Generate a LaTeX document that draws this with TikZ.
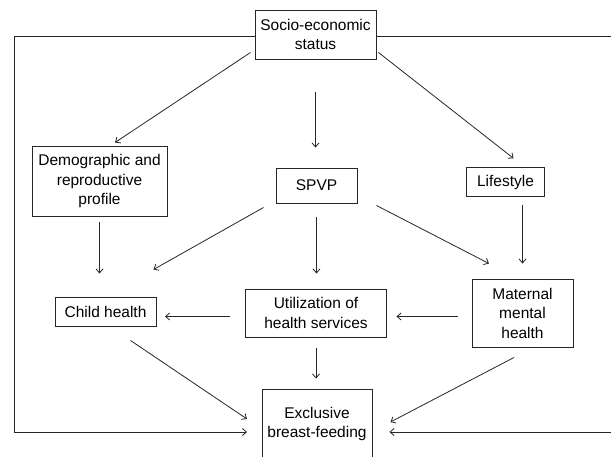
\documentclass[tikz,border=0pt]{standalone}
\usepackage{fontspec}
\setmainfont{Liberation Sans}
\usepackage{xcolor}
\usepackage{tikz}
\usetikzlibrary{
  arrows.meta,
  positioning,
  calc
}
\definecolor{FrameGrey}{HTML}{262626}

\tikzset{
  factor/.style={draw=FrameGrey,line width=0.95pt,align=center,inner sep=0pt,
                 font=\fontsize{15.5}{19.5}\selectfont},
  link/.style={draw=FrameGrey,line width=0.8pt,-{Straight Barb[length=4pt,width=7pt]}}
}

\begin{document}
\begin{tikzpicture}[x=1pt,y=-1pt]
        \useasboundingbox (0,0) rectangle (611,456);
        \node[factor,minimum width=121pt,minimum height=49pt] (ses) at (315.5,34.5) {Socio-economic\\status};
        \node[factor,minimum width=135pt,minimum height=70pt] (demo) at (99.5,181) {Demographic and\\reproductive\\profile};
        \node[factor,minimum width=81pt,minimum height=35pt] (spvp) at (316.5,185.5) {SPVP};
        \node[factor,minimum width=78pt,minimum height=29pt] (life) at (505.5,182) {Lifestyle};
        \node[factor,minimum width=101pt,minimum height=29pt] (child) at (105.5,311.5) {Child health};
        \node[factor,minimum width=141pt,minimum height=48pt] (util) at (316,313) {Utilization of\\health services};
        \node[factor,minimum width=101pt,minimum height=68pt] (mat) at (522.5,313) {Maternal\\mental\\health};
        \node[factor,minimum width=110pt,minimum height=70pt] (excl) at (317,424) {Exclusive\\breast-feeding};
        \coordinate (lbot) at (14,432);
        \coordinate (rbot) at (613,432);

        % from socio-economic status
        \draw[link] ([xshift=-4pt,yshift=7pt]ses.south west) -- ([xshift=15.5pt,yshift=3pt]demo.north);
        \draw[link,shorten <=33pt,shorten >=20pt] (ses.south) -- (ses.south |- spvp.north);
        \draw[link] ([xshift=2pt,yshift=7pt]ses.south east) -- ([xshift=8pt,yshift=8.7pt]life.north);

        % middle layer
        \draw[link,shorten <=6pt,shorten >=23pt] (demo.south) -- (demo.south |- child.north);
        \draw[link] ([xshift=-12pt,yshift=-4pt]spvp.south west) -- ([xshift=-3pt,yshift=27pt]child.north east);
        \draw[link,shorten <=14pt,shorten >=15pt] (spvp.south) -- (spvp.south |- util.north);
        \draw[link] ([xshift=19pt,yshift=-2pt]spvp.south east) -- ([xshift=-33.5pt,yshift=15pt]mat.north);
        \draw[link,shorten <=8pt,shorten >=15pt] (mat.north |- life.south) -- (mat.north);
        \draw[link,shorten <=15pt,shorten >=8.5pt] ([yshift=-3.5pt]util.west) -- ([yshift=-3.5pt]util.west -| child.east);
        \draw[link,shorten <=14pt,shorten >=9.5pt] ([yshift=-3.5pt]util.east -| mat.west) -- ([yshift=-3.5pt]util.east);

        % into exclusive breast-feeding
        \draw[link] ([xshift=25pt,yshift=-14pt]child.south) -- ([xshift=-14.5pt,yshift=5pt]excl.west);
        \draw[link,shorten <=11pt,shorten >=10pt] (util.south) -- (util.south |- excl.north);
        \draw[link] ([xshift=-8.5pt,yshift=-10pt]mat.south) -- ([xshift=18pt,yshift=2pt]excl.east);
        \draw[link,shorten >=14.5pt] ([yshift=-2pt]ses.west) -| (lbot) -- (excl.west |- lbot);
        \draw[link,shorten >=17pt] ([yshift=-2pt]ses.east) -| (rbot) -- (excl.east |- rbot);
      \end{tikzpicture}
\end{document}
